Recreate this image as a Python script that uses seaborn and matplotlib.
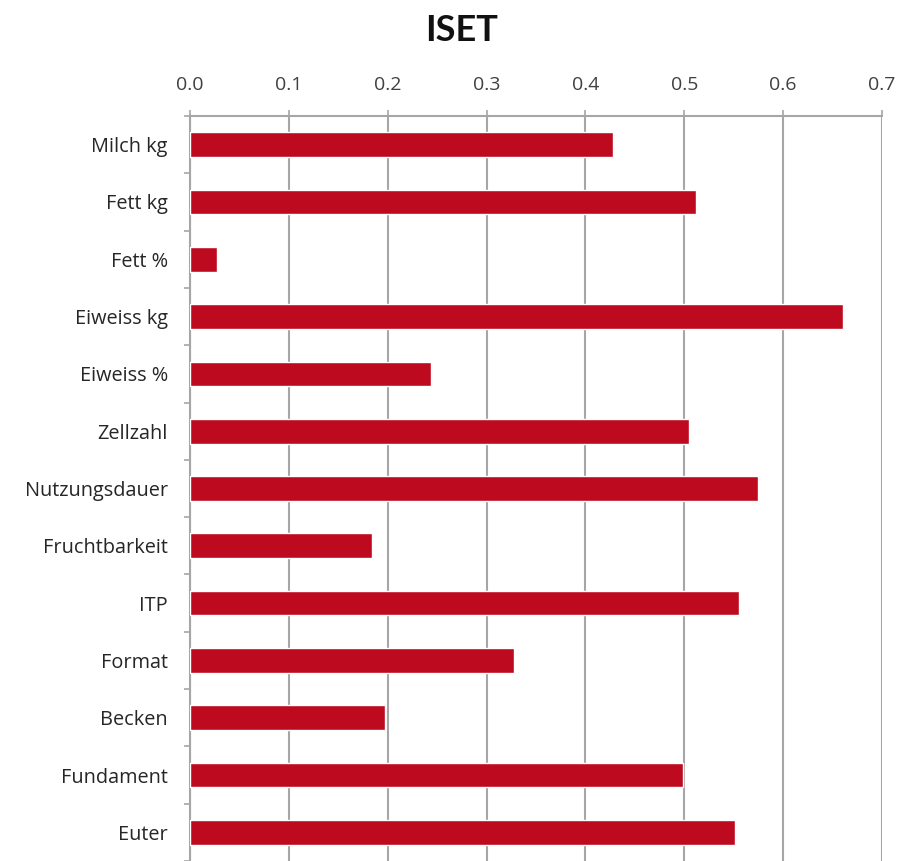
import matplotlib.pyplot as plt
import pandas as pd
import seaborn as sns
from matplotlib.ticker import MultipleLocator

# Data
categories = ["Milch kg", "Fett kg", "Fett %", "Eiweiss kg", "Eiweiss %", "Zellzahl",
              "Nutzungsdauer", "Fruchtbarkeit", "ITP", "Format", "Becken", "Fundament", "Euter"]
values = [0.428, 0.512, 0.027, 0.661, 0.244, 0.505, 0.575, 0.184, 0.555, 0.328, 0.197, 0.499, 0.551]
x_ticks = [0.0, 0.1, 0.2, 0.3, 0.4, 0.5, 0.6, 0.7]

df = pd.DataFrame({"trait": categories, "value": values})

sns.set_style("white")
plt.rcParams["font.family"] = ["Open Sans", "DejaVu Sans"]

fig = plt.figure(figsize=(9.06, 8.61), dpi=100)
ax = fig.add_axes([0.2097, 0.0, 0.7638, 0.8653])

sns.barplot(data=df, x="value", y="trait", orient="h", color="#BE0A1E",
            width=0.43, saturation=1, ax=ax, zorder=3)

grid_col = "#A6A6A6"
ax.set_xlim(0, 0.7)
ax.set_ylim(12.5, -0.5)
ax.set_xticks(x_ticks)
ax.set_xticklabels([f"{t:.1f}" for t in x_ticks])
ax.xaxis.tick_top()
ax.xaxis.grid(True, color=grid_col, linewidth=1.5, zorder=0)
ax.set_axisbelow(True)
ax.set_xlabel("")
ax.set_ylabel("")

ax.tick_params(axis="x", which="major", direction="out", length=4.5, width=1.2,
               color=grid_col, pad=11, labelsize=14, labelcolor="#404040")
ax.yaxis.set_minor_locator(MultipleLocator(1, offset=0.5))
ax.tick_params(axis="y", which="major", length=0, pad=16, labelsize=14.3, labelcolor="#262626")
ax.tick_params(axis="y", which="minor", direction="out", length=4.5, width=1.2, color=grid_col, left=True)

for side in ["right", "bottom"]:
    ax.spines[side].set_visible(False)
for side in ["top", "left"]:
    ax.spines[side].set_color(grid_col)
    ax.spines[side].set_linewidth(1.5)

fig.text(0.51, 0.965, "ISET", ha="center", va="center", fontsize=26, fontweight="bold",
         family=["Lato", "DejaVu Sans"], color="#111111")

fig.savefig("out.png", dpi=100)
